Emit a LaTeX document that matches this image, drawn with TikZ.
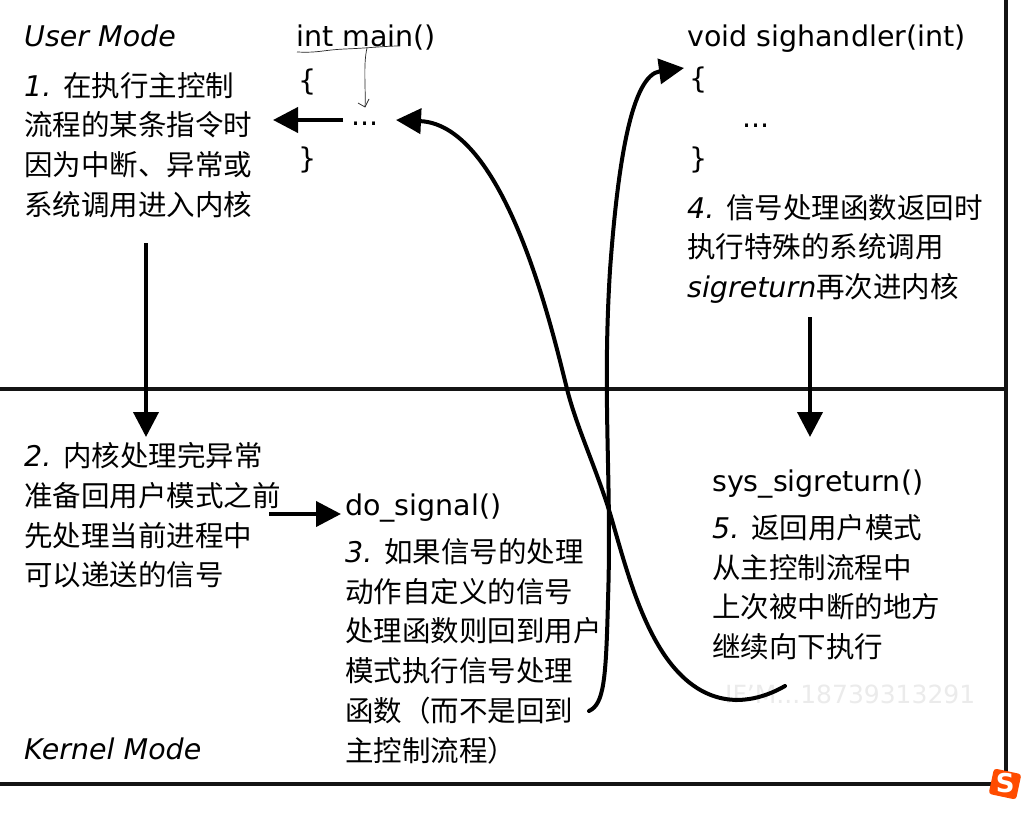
\documentclass[tikz,border=0pt]{standalone}
\usepackage{fontspec}
\setmainfont{DejaVu Sans}
\newfontfamily\cjk{Noto Sans CJK SC}
\usetikzlibrary{arrows.meta}
\newcommand{\zh}[1]{{\cjk #1}}
\tikzset{
  txt/.style={anchor=base west,inner sep=0pt,align=left,font=\fontsize{28.5}{39.8}\selectfont},
  frameline/.style={line width=4.5pt,black!92},
  flow/.style={line width=4pt,black,-{Triangle[length=25pt,width=25pt]}},
  sweep/.style={line width=4pt,black,line cap=round,-{Triangle[length=25pt,width=25pt]}},
  pen/.style={line width=0.7pt,black!85}
}
\begin{document}
\begin{tikzpicture}[x=1pt,y=-1pt]
\useasboundingbox (0,0) rectangle (1025,814);
\fill[white] (0,0) rectangle (1025,814);
% coordinates
\coordinate (TL) at (0,0);
\coordinate (TR) at (1006,0);
\coordinate (ML) at (0,389);
\coordinate (MR) at (1006,389);
\coordinate (BL) at (0,784);
\coordinate (BR) at (1006,784);
% watermark
\node[txt,text=black!8,font=\fontsize{25}{30}\selectfont] (mark) at (725,703) {IF'M...18739313291};
% frame
\draw[frameline] (ML) -- (MR);
\draw[frameline] (BL) -- (BR);
\draw[frameline] (TR) -- (BR);
% text
\node[txt] (user) at (24,46) {\itshape User Mode};
\node[txt] (kernel) at (24,759) {\itshape Kernel Mode};
\node[txt] (main) at (296,46) {int main()};
\node[txt] (mo) at (298,90) {\{};
\node[txt] (mdots) at (351,125) {...};
\node[txt] (mc) at (298,168) {\}};
\node[txt] (hand) at (687,46) {void sighandler(int)};
\node[txt] (ho) at (689,88) {\{};
\node[txt] (hdots) at (742,127) {...};
\node[txt] (hc) at (689,168) {\}};
\node[txt,anchor=north west] (s1) at (24,72) {{\itshape 1.} \zh{在执行主控制}\\\zh{流程的某条指令时}\\\zh{因为中断、异常或}\\\zh{系统调用进入内核}};
\node[txt,anchor=north west] (s4) at (687,194) {{\itshape 4.} \zh{信号处理函数返回时}\\\zh{执行特殊的系统调用}\\{\itshape sigreturn}\zh{再次进内核}};
\node[txt,anchor=north west] (s2) at (24,442) {{\itshape 2.} \zh{内核处理完异常}\\\zh{准备回用户模式之前}\\\zh{先处理当前进程中}\\\zh{可以递送的信号}};
\node[txt] (dosig) at (345,515) {do\_signal()};
\node[txt,anchor=north west] (s3) at (345,538) {{\itshape 3.} \zh{如果信号的处理}\\\zh{动作自定义的信号}\\\zh{处理函数则回到用户}\\\zh{模式执行信号处理}\\\zh{函数（而不是回到}\\\zh{主控制流程）}};
\node[txt] (sysret) at (712,491) {sys\_sigreturn()};
\node[txt,anchor=north west] (s5) at (712,514) {{\itshape 5.} \zh{返回用户模式}\\\zh{从主控制流程中}\\\zh{上次被中断的地方}\\\zh{继续向下执行}};
% arrow ends
\coordinate (a1s) at (343,120); \coordinate (a1e) at (273,120);
\coordinate (a2s) at (146,243); \coordinate (a2e) at (146,437);
\coordinate (a3s) at (269,514); \coordinate (a3e) at (341,514);
\coordinate (a4s) at (810,317); \coordinate (a4e) at (810,437);
\coordinate (c1s) at (785,686); \coordinate (c1e) at (396,120);
\coordinate (c2s) at (589,711); \coordinate (c2e) at (684,68);
\draw[flow] (a1s) -- (a1e);
\draw[flow] (a2s) -- (a2e);
\draw[flow] (a3s) -- (a3e);
\draw[flow] (a4s) -- (a4e);
\draw[sweep] (c1s) .. controls (750,706) and (705,710) .. (668,660)
  .. controls (640,622) and (625,565) .. (612,520)
  .. controls (598,472) and (577,429) .. (567,389)
  .. controls (552,329) and (505,125) .. (c1e);
\draw[sweep] (c2s) .. controls (604,704) and (606,680) .. (608,600)
  .. controls (612,480) and (602,400) .. (610,270)
  .. controls (618,160) and (632,75) .. (c2e);
% handwritten
\draw[pen] (297,52) .. controls (320,53) and (322,50) .. (345,49) .. controls (370,48) and (385,46) .. (400,46);
\coordinate (p1) at (367,48); \coordinate (p2) at (365,107);
\draw[pen] (p1) .. controls (363,65) and (366,90) .. (p2);
\draw[pen] (358,103) -- (p2) -- (369,99);
% icon
\begin{scope}[shift={(1005,784)},rotate=-12]
\fill[rounded corners=3pt,orange!60!red] (-14,-13) rectangle (14,13);
\node[inner sep=0pt,text=white,font=\bfseries\fontsize{26}{26}\selectfont] (logo) at (0,-1) {S};
\end{scope}
\end{tikzpicture}
\end{document}
